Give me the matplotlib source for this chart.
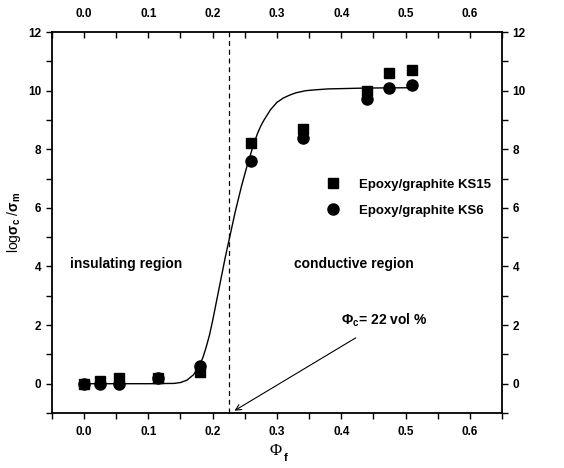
import numpy as np
import matplotlib
matplotlib.use('Agg')
import matplotlib.pyplot as plt
from matplotlib.ticker import MultipleLocator, FormatStrFormatter

plt.rcParams['font.family'] = ['Liberation Sans', 'DejaVu Sans']
plt.rcParams['font.weight'] = 'bold'
plt.rcParams['mathtext.fontset'] = 'custom'
plt.rcParams['mathtext.rm'] = 'Liberation Sans:bold'
plt.rcParams['mathtext.it'] = 'Liberation Sans:bold'
plt.rcParams['mathtext.bf'] = 'Liberation Sans:bold'

# Datos
phi = [0.0, 0.025, 0.055, 0.115, 0.18, 0.26, 0.34, 0.44, 0.475, 0.51]
ks15 = [0.0, 0.1, 0.2, 0.2, 0.4, 8.2, 8.7, 10.0, 10.6, 10.7]
ks6 = [0.0, 0.0, 0.0, 0.2, 0.6, 7.6, 8.4, 9.7, 10.1, 10.2]

# Curva de ajuste (puntos leidos)
fit_x = [0.0, 0.10, 0.14, 0.15, 0.16, 0.17, 0.175, 0.18, 0.185, 0.19, 0.195, 0.20,
         0.205, 0.21, 0.215, 0.22, 0.225, 0.23, 0.235, 0.24, 0.245, 0.25, 0.255,
         0.26, 0.265, 0.27, 0.275, 0.28, 0.29, 0.30, 0.31, 0.32, 0.33, 0.345,
         0.36, 0.38, 0.40, 0.44, 0.51]
fit_y = [0.0, 0.0, 0.01, 0.04, 0.12, 0.3, 0.45, 0.65, 0.9, 1.25, 1.65, 2.15,
         2.7, 3.25, 3.8, 4.35, 4.85, 5.35, 5.85, 6.3, 6.75, 7.15, 7.55,
         7.9, 8.25, 8.55, 8.8, 9.0, 9.35, 9.6, 9.75, 9.85, 9.93, 10.0,
         10.03, 10.06, 10.07, 10.09, 10.1]

phi_c = 0.225

fig = plt.figure(figsize=(5.64, 4.68), dpi=100)
ax = fig.add_axes([0.092, 0.1175, 0.798, 0.814])

ax.plot(fit_x, fit_y, color='black', lw=1.0, zorder=2)
ax.plot(phi, ks15, 's', color='black', ms=7.5, label='Epoxy/graphite KS15', zorder=3)
ax.plot(phi, ks6, 'o', color='black', ms=8, label='Epoxy/graphite KS6', zorder=3)

ax.axvline(phi_c, color='black', lw=0.9, linestyle=(0, (4, 3)), zorder=1)

ax.set_xlim(-0.05, 0.65)
ax.set_ylim(-1, 12)
ax.xaxis.set_major_locator(MultipleLocator(0.1))
ax.xaxis.set_minor_locator(MultipleLocator(0.05))
ax.yaxis.set_major_locator(MultipleLocator(2))
ax.yaxis.set_minor_locator(MultipleLocator(1))

ax.tick_params(which='both', labelsize=8.5, width=1.0, length=4,
               top=True, right=True, labeltop=True, labelright=True)
ax.tick_params(axis='x', which='both', direction='out', pad=5)
ax.tick_params(axis='y', which='both', direction='out')
# ticks de arriba hacia dentro
for t in ax.xaxis.get_major_ticks() + ax.xaxis.get_minor_ticks():
    t.tick2line.set_marker(3)
ax.xaxis.set_major_formatter(FormatStrFormatter('%.1f'))
ax.yaxis.set_major_formatter(FormatStrFormatter('%d'))

for s in ax.spines.values():
    s.set_linewidth(1.3)

ax.set_ylabel(r'log$\sigma_\mathrm{c}$ /$\sigma_\mathrm{m}$', fontsize=10, labelpad=4)

# etiqueta eje x: Phi con fuente serif
fig.text(0.488, 0.028, 'Φ', family='Liberation Serif', fontsize=12,
         fontweight='normal', ha='center', va='baseline')
fig.text(0.503, 0.016, 'f', fontsize=8, ha='left', va='baseline')

ax.text(-0.022, 4.07, 'insulating region', fontsize=10, va='center', ha='left')
ax.text(0.327, 4.1, 'conductive region', fontsize=10, va='center', ha='left')

ax.annotate(r'$\Phi_\mathrm{c}$= 22 vol %', xy=(0.234, -0.92), xytext=(0.467, 2.15),
            fontsize=10, ha='center', va='center',
            arrowprops=dict(arrowstyle='->', color='black', lw=0.8,
                            shrinkA=8, shrinkB=0))

ax.legend(loc='upper left', bbox_to_anchor=(0.575, 0.64), frameon=False,
          fontsize=9.5, handletextpad=1.0, labelspacing=1.05, borderpad=0.2)

fig.savefig('out.png', dpi=100)
